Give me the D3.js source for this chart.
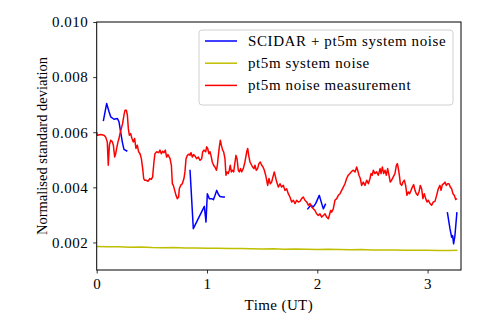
<!DOCTYPE html>
<html>
<head>
<meta charset="utf-8">
<script src="https://cdn.jsdelivr.net/npm/d3@7"></script>
<style>
  body { margin: 0; background: #fff; }
</style>
</head>
<body>
<script>
// values (time in UT hours, normalised std dev)
const xTicks = [0, 1, 2, 3];
const yTicks = [0.002, 0.004, 0.006, 0.008, 0.010];

const seriesNames = ["SCIDAR + pt5m system noise", "pt5m system noise", "pt5m noise measurement"];
const seriesColors = ["#0000ff", "#bfbf00", "#ff0000"];

// SCIDAR + pt5m, four separate runs (null = gap)
const scidar = [
  [0.060, 0.00640], [0.090, 0.00704], [0.112, 0.00674], [0.127, 0.00656], [0.157, 0.00647],
  [0.187, 0.00650], [0.202, 0.00638], [0.217, 0.00601], [0.232, 0.00565], [0.247, 0.00538],
  [0.278, 0.00531],
  null,
  [0.846, 0.00464], [0.876, 0.00250], [0.976, 0.00331], [0.991, 0.00274], [1.003, 0.00377],
  [1.021, 0.00359], [1.042, 0.00359], [1.058, 0.00355], [1.073, 0.00371], [1.088, 0.00389],
  [1.103, 0.00375], [1.118, 0.00367], [1.142, 0.00365], [1.163, 0.00365],
  null,
  [1.910, 0.00320], [1.940, 0.00335], [1.964, 0.00329], [1.985, 0.00341], [2.018, 0.00371],
  [2.040, 0.00341], [2.055, 0.00322], [2.076, 0.00341],
  null,
  [3.179, 0.00310], [3.203, 0.00250], [3.218, 0.00219], [3.227, 0.00225], [3.236, 0.00195],
  [3.248, 0.00225], [3.266, 0.00310]
];

// pt5m system noise
const systemNoise = [
  [0.00, 0.001850], [0.10, 0.001840], [0.20, 0.001845], [0.30, 0.001830], [0.40, 0.001835],
  [0.50, 0.001815], [0.60, 0.001810], [0.70, 0.001815], [0.80, 0.001800], [0.90, 0.001795],
  [1.00, 0.001790], [1.10, 0.001785], [1.20, 0.001780], [1.30, 0.001780], [1.40, 0.001770],
  [1.50, 0.001765], [1.60, 0.001770], [1.70, 0.001755], [1.80, 0.001760], [1.90, 0.001750],
  [2.00, 0.001745], [2.10, 0.001750], [2.20, 0.001740], [2.30, 0.001735], [2.40, 0.001740],
  [2.50, 0.001730], [2.60, 0.001725], [2.70, 0.001730], [2.80, 0.001720], [2.90, 0.001715],
  [3.00, 0.001720], [3.10, 0.001710], [3.20, 0.001710], [3.27, 0.001715]
];

// pt5m noise measurement
const measured = [
  [0.000, 0.00600], [0.006, 0.00589], [0.036, 0.00592], [0.066, 0.00589], [0.081, 0.00583],
  [0.096, 0.00565], [0.105, 0.00480], [0.115, 0.00553], [0.127, 0.00571], [0.142, 0.00565],
  [0.151, 0.00553], [0.163, 0.00510], [0.172, 0.00522], [0.181, 0.00541], [0.193, 0.00565],
  [0.202, 0.00577], [0.211, 0.00595], [0.223, 0.00613], [0.235, 0.00632], [0.247, 0.00662],
  [0.257, 0.00680], [0.269, 0.00680], [0.278, 0.00662], [0.287, 0.00613], [0.296, 0.00589],
  [0.308, 0.00595], [0.320, 0.00577], [0.332, 0.00565], [0.344, 0.00577], [0.356, 0.00541],
  [0.368, 0.00553], [0.380, 0.00529], [0.393, 0.00522], [0.405, 0.00504], [0.417, 0.00468],
  [0.426, 0.00432], [0.435, 0.00426], [0.447, 0.00426], [0.465, 0.00422], [0.483, 0.00432],
  [0.495, 0.00429], [0.507, 0.00438], [0.519, 0.00492], [0.528, 0.00522], [0.544, 0.00529],
  [0.562, 0.00526], [0.574, 0.00535], [0.586, 0.00522], [0.598, 0.00531], [0.610, 0.00526],
  [0.622, 0.00535], [0.634, 0.00510], [0.646, 0.00519], [0.665, 0.00504], [0.677, 0.00480],
  [0.686, 0.00413], [0.695, 0.00407], [0.707, 0.00389], [0.719, 0.00371], [0.731, 0.00359],
  [0.743, 0.00365], [0.749, 0.00395], [0.761, 0.00407], [0.776, 0.00413], [0.791, 0.00432],
  [0.800, 0.00456], [0.810, 0.00504], [0.822, 0.00516], [0.837, 0.00521], [0.846, 0.00516],
  [0.855, 0.00526], [0.867, 0.00510], [0.879, 0.00519], [0.891, 0.00514], [0.906, 0.00504],
  [0.921, 0.00510], [0.937, 0.00498], [0.952, 0.00504], [0.961, 0.00529], [0.973, 0.00535],
  [0.988, 0.00529], [0.997, 0.00547], [1.006, 0.00541], [1.018, 0.00522], [1.027, 0.00529],
  [1.036, 0.00516], [1.048, 0.00492], [1.060, 0.00480], [1.072, 0.00474], [1.085, 0.00462],
  [1.094, 0.00480], [1.103, 0.00516], [1.112, 0.00547], [1.121, 0.00571], [1.130, 0.00553],
  [1.142, 0.00535], [1.151, 0.00529], [1.163, 0.00504], [1.172, 0.00444], [1.181, 0.00456],
  [1.193, 0.00450], [1.202, 0.00462], [1.211, 0.00480], [1.221, 0.00456], [1.230, 0.00462],
  [1.242, 0.00456], [1.254, 0.00492], [1.263, 0.00516], [1.272, 0.00504], [1.284, 0.00462],
  [1.293, 0.00456], [1.305, 0.00468], [1.314, 0.00456], [1.329, 0.00468], [1.344, 0.00492],
  [1.360, 0.00529], [1.369, 0.00541], [1.378, 0.00516], [1.390, 0.00492], [1.405, 0.00480],
  [1.414, 0.00474], [1.426, 0.00468], [1.435, 0.00480], [1.447, 0.00462], [1.459, 0.00468],
  [1.471, 0.00486], [1.483, 0.00492], [1.496, 0.00480], [1.508, 0.00474], [1.520, 0.00462],
  [1.532, 0.00444], [1.541, 0.00426], [1.550, 0.00407], [1.562, 0.00432], [1.574, 0.00413],
  [1.586, 0.00419], [1.598, 0.00438], [1.610, 0.00456], [1.632, 0.00419], [1.647, 0.00401],
  [1.662, 0.00413], [1.677, 0.00401], [1.692, 0.00407], [1.707, 0.00389], [1.722, 0.00395],
  [1.737, 0.00377], [1.752, 0.00365], [1.768, 0.00347], [1.783, 0.00353], [1.798, 0.00341],
  [1.813, 0.00353], [1.828, 0.00347], [1.843, 0.00349], [1.858, 0.00359], [1.873, 0.00365],
  [1.888, 0.00353], [1.904, 0.00347], [1.919, 0.00335], [1.934, 0.00341], [1.949, 0.00329],
  [1.964, 0.00322], [1.979, 0.00316], [1.994, 0.00304], [2.009, 0.00298], [2.024, 0.00304],
  [2.040, 0.00292], [2.055, 0.00298], [2.070, 0.00304], [2.085, 0.00292], [2.100, 0.00286],
  [2.109, 0.00298], [2.121, 0.00316], [2.130, 0.00310], [2.145, 0.00322], [2.160, 0.00353],
  [2.176, 0.00359], [2.191, 0.00371], [2.206, 0.00377], [2.221, 0.00389], [2.236, 0.00401],
  [2.251, 0.00413], [2.266, 0.00432], [2.281, 0.00444], [2.296, 0.00450], [2.312, 0.00458],
  [2.327, 0.00462], [2.342, 0.00456], [2.357, 0.00474], [2.366, 0.00462], [2.378, 0.00444],
  [2.390, 0.00432], [2.402, 0.00407], [2.417, 0.00419], [2.432, 0.00407], [2.448, 0.00426],
  [2.463, 0.00413], [2.478, 0.00432], [2.487, 0.00450], [2.499, 0.00444], [2.508, 0.00462],
  [2.523, 0.00450], [2.538, 0.00456], [2.553, 0.00444], [2.569, 0.00468], [2.578, 0.00450],
  [2.590, 0.00474], [2.602, 0.00450], [2.614, 0.00462], [2.626, 0.00444], [2.638, 0.00468],
  [2.650, 0.00444], [2.662, 0.00419], [2.674, 0.00426], [2.689, 0.00438], [2.704, 0.00450],
  [2.717, 0.00480], [2.726, 0.00486], [2.735, 0.00468], [2.744, 0.00444], [2.753, 0.00413],
  [2.765, 0.00407], [2.777, 0.00419], [2.789, 0.00426], [2.801, 0.00407], [2.813, 0.00371],
  [2.825, 0.00383], [2.837, 0.00377], [2.850, 0.00389], [2.862, 0.00401], [2.874, 0.00410],
  [2.886, 0.00389], [2.898, 0.00377], [2.910, 0.00371], [2.922, 0.00383], [2.934, 0.00407],
  [2.946, 0.00395], [2.958, 0.00359], [2.970, 0.00377], [2.983, 0.00359], [2.995, 0.00347],
  [3.007, 0.00353], [3.022, 0.00341], [3.037, 0.00335], [3.052, 0.00347], [3.067, 0.00349],
  [3.082, 0.00371], [3.097, 0.00395], [3.112, 0.00407], [3.122, 0.00389], [3.134, 0.00410],
  [3.146, 0.00413], [3.158, 0.00419], [3.170, 0.00407], [3.182, 0.00413], [3.194, 0.00413],
  [3.206, 0.00401], [3.218, 0.00395], [3.230, 0.00377], [3.242, 0.00371], [3.255, 0.00356],
  [3.267, 0.00359]
];

const width = 485, height = 318;
const margin = { top: 22, right: 24, bottom: 48, left: 96.7 };
const serif = "'Liberation Serif', 'DejaVu Serif', serif";

const svg = d3.select("body").append("svg")
    .attr("width", width)
    .attr("height", height)
    .attr("font-family", serif);

const x = d3.scaleLinear().domain([0, 3.303]).range([margin.left, width - margin.right]);
const y = d3.scaleLinear().domain([0.001, 0.010]).range([height - margin.bottom, margin.top]);

svg.append("clipPath").attr("id", "plot")
  .append("rect")
    .attr("x", margin.left).attr("y", margin.top)
    .attr("width", x.range()[1] - margin.left)
    .attr("height", y.range()[0] - margin.top);

const line = d3.line()
    .defined(d => d !== null)
    .x(d => x(d[0]))
    .y(d => y(d[1]));

const plot = svg.append("g").attr("clip-path", "url(#plot)");
// draw order as in the reference: SCIDAR, system, measured
[scidar, systemNoise, measured].forEach((data, i) => {
    plot.append("path")
        .datum(data)
        .attr("fill", "none")
        .attr("stroke", seriesColors[i])
        .attr("stroke-width", 1.5)
        .attr("stroke-linejoin", "round")
        .attr("d", line);
});

// axes
const xAxis = svg.append("g")
    .attr("transform", `translate(0,${y.range()[0]})`)
    .call(d3.axisBottom(x).tickValues(xTicks).tickFormat(d3.format("d")).tickSizeOuter(0).tickSize(3.5).tickPadding(5));
const yAxis = svg.append("g")
    .attr("transform", `translate(${margin.left},0)`)
    .call(d3.axisLeft(y).tickValues(yTicks).tickFormat(d3.format(".3f")).tickSizeOuter(0).tickSize(3.5).tickPadding(5));

[xAxis, yAxis].forEach(g => {
    g.attr("font-family", serif);
    g.select(".domain").remove();
    g.selectAll("line").attr("stroke", "#000").attr("stroke-width", 0.8);
    g.selectAll("text").attr("fill", "#000")
        .style("font-family", serif)
        .style("font-size", "15px")
        .style("letter-spacing", "0.5px");
});

// frame
svg.append("rect")
    .attr("x", margin.left).attr("y", margin.top)
    .attr("width", x.range()[1] - margin.left)
    .attr("height", y.range()[0] - margin.top)
    .attr("fill", "none")
    .attr("stroke", "#000")
    .attr("stroke-width", 1);

// labels
svg.append("text")
    .attr("x", (margin.left + x.range()[1]) / 2)
    .attr("y", 310)
    .attr("text-anchor", "middle")
    .style("font-family", serif)
    .style("font-size", "15px")
    .style("letter-spacing", "0.4px")
    .text("Time (UT)");

svg.append("text")
    .attr("transform", `translate(47,${(margin.top + y.range()[0]) / 2}) rotate(-90)`)
    .attr("text-anchor", "middle")
    .style("font-family", serif)
    .style("font-size", "14.5px")
    .text("Normalised standard deviation");

// legend
const legend = svg.append("g").attr("transform", "translate(199,30)");
legend.append("rect")
    .attr("width", 254).attr("height", 75)
    .attr("rx", 3)
    .attr("fill", "#fff").attr("fill-opacity", 0.8)
    .attr("stroke", "#d0d0d0").attr("stroke-width", 1);

seriesNames.forEach((name, i) => {
    const g = legend.append("g").attr("transform", `translate(0,${11 + i * 22.2})`);
    g.append("line")
        .attr("x1", 6).attr("x2", 38)
        .attr("stroke", seriesColors[i]).attr("stroke-width", 1.5);
    g.append("text")
        .attr("x", 49).attr("y", 4.5)
        .style("font-family", serif)
        .style("font-size", "15px")
        .style("letter-spacing", "0.6px")
        .text(name);
});
</script>
</body>
</html>
